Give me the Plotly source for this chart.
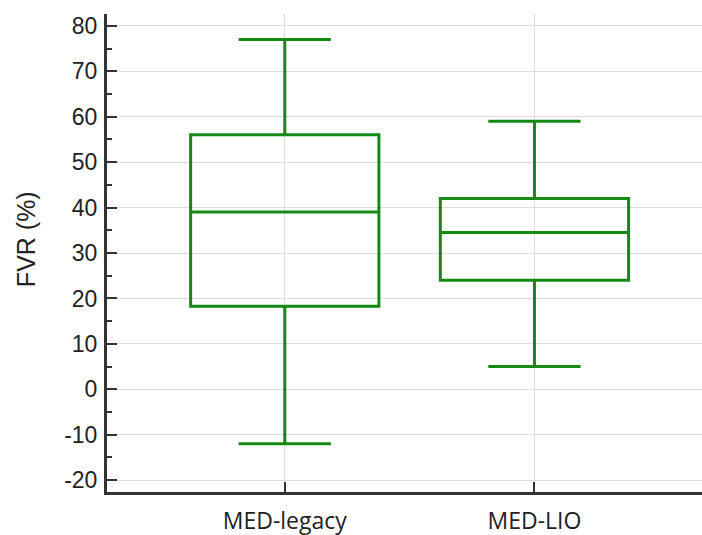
import plotly.graph_objects as go

categories = ["MED-legacy", "MED-LIO"]
lower_whisker = [-12, 5]
q1 = [18.3, 24]
median = [39, 34.5]
q3 = [56, 42]
upper_whisker = [77, 59]

y_ticks = [-20, -10, 0, 10, 20, 30, 40, 50, 60, 70, 80]
y_tick_labels = ["-20", "-10", "0", "10", "20", "30", "40", "50", "60", "70", "80"]

fig = go.Figure()
fig.add_trace(go.Box(
    x=categories,
    q1=q1,
    median=median,
    q3=q3,
    lowerfence=lower_whisker,
    upperfence=upper_whisker,
    boxpoints=False,
    width=0.754,
    whiskerwidth=0.49,
    line=dict(color="#138a13", width=3),
    fillcolor="rgba(255,255,255,0)",
    showlegend=False,
    hoverinfo="skip",
))

fig.update_layout(
    width=702,
    height=535,
    margin=dict(l=107, r=0, t=14, b=43),
    paper_bgcolor="white",
    plot_bgcolor="white",
    font=dict(family="Liberation Sans, Arial, sans-serif", color="#222222"),
    annotations=[dict(
        text="FVR (%)", textangle=-90, showarrow=False,
        xref="paper", yref="paper", x=-0.137, y=0.53,
        xanchor="center", yanchor="middle",
        font=dict(size=25, family="Liberation Sans, Arial, sans-serif", color="#222222"),
    )],
)

fig.update_xaxes(
    range=[-0.712, 1.671],
    automargin=False,
    showline=True, linecolor="#333333", linewidth=3,
    ticks="inside", ticklen=10, tickwidth=2, tickcolor="#333333",
    showgrid=True, gridcolor="#dcdcdc", gridwidth=1,
    tickfont=dict(family="Open Sans, sans-serif", size=23, color="#222222"),
    ticklabelstandoff=6,
    zeroline=False,
)
fig.update_yaxes(
    range=[-22.6, 82.6],
    automargin=False,
    tickvals=y_ticks,
    ticktext=y_tick_labels,
    showline=True, linecolor="#333333", linewidth=3,
    ticks="inside", ticklen=10, tickwidth=2, tickcolor="#333333",
    minor=dict(ticks="inside", ticklen=5, tickwidth=2, tickcolor="#333333", dtick=5, tick0=0, showgrid=False),
    showgrid=True, gridcolor="#dcdcdc", gridwidth=1,
    tickfont=dict(family="Liberation Sans, Arial, sans-serif", size=23, color="#222222"),
    ticklabelstandoff=2,
    zeroline=False,
)

fig.write_html("out.html")
